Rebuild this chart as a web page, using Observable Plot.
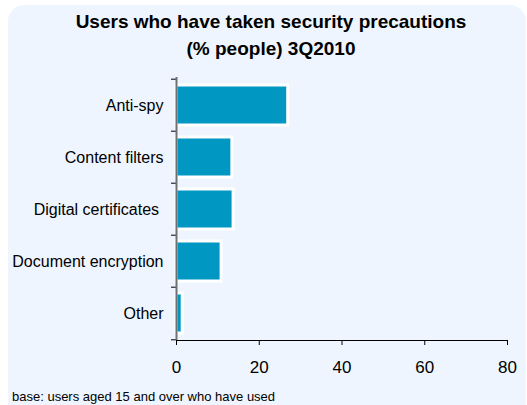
<!DOCTYPE html>
<html>
<head>
<meta charset="utf-8">
<script src="https://cdn.jsdelivr.net/npm/d3@7"></script>
<script src="https://cdn.jsdelivr.net/npm/@observablehq/plot@0.6"></script>
<style>
  html, body { margin: 0; padding: 0; background: #ffffff; }
  #wrap { position: relative; width: 527px; height: 405px; overflow: hidden; font-family: "Liberation Sans", Arial, sans-serif; }
  #panel { position: absolute; left: 8px; top: 5px; width: 518px; height: 430px; background: #EEF5FE; border-radius: 16px; }
  #title { position: absolute; left: 8px; top: 8px; width: 526px; text-align: center; font-weight: bold; font-size: 19px; line-height: 27px; color: #000; }
  #chart { position: absolute; left: 0; top: 0; }
  #caption { position: absolute; left: 12px; top: 389px; font-size: 13px; line-height: 16px; color: #000; white-space: nowrap; }
</style>
</head>
<body>
<div id="wrap">
  <div id="panel"></div>
  <div id="chart"></div>
  <div id="title">Users who have taken security precautions<br>(% people) 3Q2010</div>
  <div id="caption">base: users aged 15 and over who have used</div>
</div>
<script>
const categories = ["Anti-spy", "Content filters", "Digital certificates\u00a0", "Document encryption", "Other"];
const values = [27.0, 13.5, 13.8, 10.9, 1.5];
const xTicks = [0, 20, 40, 60, 80];

const data = categories.map((c, i) => ({category: c, value: values[i]}));

const W = 527, H = 405, mTop = 77, mBottom = 65, mLeft = 176, mRight = 20;
const step = (H - mTop - mBottom) / categories.length;

const chart = Plot.plot({
  width: W,
  height: H,
  marginTop: mTop,
  marginBottom: mBottom,
  marginLeft: mLeft,
  marginRight: mRight,
  style: {background: "transparent", fontFamily: "'Liberation Sans', Arial, sans-serif", color: "#000", overflow: "visible"},
  x: {domain: [0, 80]},
  y: {domain: categories, paddingInner: 0, paddingOuter: 0, axis: null},
  marks: [
    Plot.barX(data, {y: "category", x: "value", fill: "#0097C3", stroke: "#ffffff", strokeWidth: 3, insetTop: 6, insetBottom: 6}),
    Plot.axisY({anchor: "left", ticks: categories, tickSize: 0, tickPadding: 13, fontSize: 16, label: null}),
    Plot.axisY({anchor: "left", ticks: categories, tickSize: 5, tickFormat: () => "", dy: -step / 2, label: null, stroke: "#000"}),
    Plot.axisY({anchor: "left", ticks: [categories[categories.length - 1]], tickSize: 5, tickFormat: () => "", dy: step / 2, label: null, stroke: "#000"}),
    Plot.axisX({anchor: "bottom", ticks: xTicks, tickSize: 5, tickPadding: 15, fontSize: 17, label: null, stroke: "#000"}),
    Plot.frame({anchor: "bottom", stroke: "#000"}),
    Plot.ruleX([0], {stroke: "#707070", strokeWidth: 2})
  ]
});
document.getElementById("chart").appendChild(chart);
</script>
</body>
</html>
